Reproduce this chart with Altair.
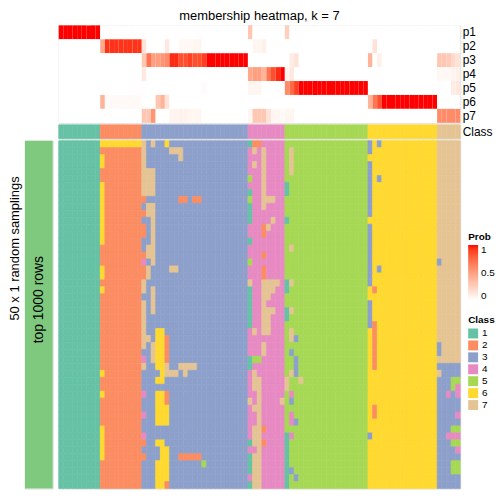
import altair as alt
import pandas as pd

TITLE = "membership heatmap, k = 7"
ROW_TITLE = "50 x 1 random samplings"
BAR_LABEL = "top 1000 rows"
PROB_NAMES = ["p1", "p2", "p3", "p4", "p5", "p6", "p7"]
CLASS_NAMES = ["1", "2", "3", "4", "5", "6", "7"]
CLASS_COLORS = ["#66C2A5", "#FC8D62", "#8DA0CB", "#E78AC3", "#A6D854", "#FFD92F", "#E5C494"]
BAR_COLOR = "#7FC97F"

# number of samples in each consensus class (columns, left to right)
BLOCK_SIZES = [9, 9, 23, 8, 18, 15, 5]

# membership probabilities, per class block of columns
PROB_BLOCKS = {
    "p1": [
        [1, 1, 1, 1, 1, 1, 1, 1, 1],
        [0, 0, 0, 0, 0, 0, 0, 0, 0],
        [0, 0, 0, 0, 0, 0, 0, 0, 0, 0, 0, 0, 0, 0, 0, 0, 0, 0, 0, 0, 0, 0, 0],
        [0.3, 0, 0, 0, 0, 0, 0, 0],
        [0.25, 0, 0, 0, 0, 0, 0, 0, 0, 0, 0, 0, 0, 0, 0, 0, 0, 0],
        [0, 0, 0, 0, 0, 0, 0, 0, 0, 0, 0, 0, 0, 0, 0],
        [0, 0, 0, 0, 0],
    ],
    "p2": [
        [0, 0, 0, 0, 0, 0, 0, 0, 0],
        [0.45, 0.93, 0.93, 0.93, 0.93, 0.93, 0.93, 0.93, 0.93],
        [0.15, 0, 0, 0, 0, 0.12, 0, 0, 0.04, 0.04, 0.04, 0.05, 0.05, 0, 0, 0, 0, 0, 0, 0, 0, 0, 0],
        [0, 0.05, 0.05, 0.08, 0, 0, 0, 0],
        [0, 0, 0, 0, 0, 0, 0, 0, 0, 0, 0, 0, 0, 0, 0, 0, 0, 0],
        [0, 0.15, 0, 0, 0, 0, 0, 0, 0, 0, 0, 0, 0, 0, 0],
        [0, 0, 0, 0, 0],
    ],
    "p3": [
        [0, 0, 0, 0, 0, 0, 0, 0, 0],
        [0, 0, 0, 0, 0, 0, 0, 0, 0],
        [0.3, 0.7, 0.5, 0.5, 0.55, 0.6, 0.95, 0.95, 0.85, 0.85, 0.9, 0.85, 0.85, 0.9, 1, 1, 1, 1, 1, 1, 1, 1, 1],
        [0, 0, 0, 0, 0, 0, 0, 0],
        [0, 0.1, 0.15, 0, 0, 0, 0, 0, 0, 0, 0, 0, 0, 0, 0, 0, 0, 0],
        [0.4, 0, 0.08, 0, 0, 0, 0, 0, 0, 0, 0, 0, 0, 0, 0],
        [0.3, 0.3, 0.28, 0.2, 0.15],
    ],
    "p4": [
        [0, 0, 0, 0, 0, 0, 0, 0, 0],
        [0, 0, 0, 0, 0, 0, 0, 0, 0],
        [0.12, 0, 0, 0, 0, 0, 0, 0, 0, 0, 0, 0, 0, 0, 0, 0, 0, 0, 0, 0, 0, 0, 0],
        [0.45, 0.5, 0.5, 0.4, 0.7, 0.85, 0.95, 1],
        [0.05, 0.12, 0, 0, 0, 0, 0, 0, 0, 0, 0, 0, 0, 0, 0, 0, 0, 0],
        [0, 0, 0, 0, 0, 0, 0, 0, 0, 0, 0, 0, 0, 0, 0],
        [0.04, 0.04, 0.04, 0.06, 0.08],
    ],
    "p5": [
        [0, 0, 0, 0, 0, 0, 0, 0, 0],
        [0, 0, 0, 0, 0, 0, 0, 0, 0],
        [0, 0, 0, 0, 0, 0, 0, 0, 0, 0, 0, 0, 0, 0.02, 0, 0, 0, 0, 0, 0, 0, 0, 0],
        [0.05, 0.05, 0.05, 0, 0, 0, 0, 0],
        [0.6, 0.75, 0.9, 1, 1, 1, 1, 1, 1, 1, 1, 1, 1, 1, 1, 1, 1, 1],
        [0, 0, 0, 0, 0, 0, 0, 0, 0, 0, 0, 0, 0, 0, 0],
        [0, 0, 0, 0.1, 0.12],
    ],
    "p6": [
        [0, 0, 0, 0, 0, 0, 0, 0, 0],
        [0.4, 0.03, 0.03, 0.03, 0.03, 0.03, 0.03, 0.03, 0.03],
        [0, 0, 0, 0.3, 0.4, 0.15, 0, 0, 0, 0, 0, 0, 0, 0, 0, 0, 0, 0, 0, 0, 0, 0, 0],
        [0, 0, 0, 0, 0, 0, 0, 0],
        [0, 0, 0, 0, 0, 0, 0, 0, 0, 0, 0, 0, 0, 0, 0, 0, 0, 0],
        [0.4, 0.7, 0.85, 1, 1, 1, 1, 1, 1, 1, 1, 1, 1, 1, 1],
        [0, 0, 0, 0, 0],
    ],
    "p7": [
        [0, 0, 0, 0, 0, 0, 0, 0, 0],
        [0, 0, 0, 0, 0, 0, 0, 0, 0],
        [0.3, 0.3, 0.55, 0, 0, 0, 0.06, 0.06, 0.07, 0.07, 0.05, 0.05, 0.05, 0, 0, 0, 0, 0, 0, 0, 0, 0, 0],
        [0.05, 0.3, 0.3, 0.3, 0.15, 0.05, 0.05, 0.03],
        [0.05, 0.05, 0, 0, 0, 0, 0, 0, 0, 0, 0, 0, 0, 0, 0, 0, 0, 0],
        [0, 0, 0, 0, 0, 0, 0, 0, 0, 0, 0, 0, 0, 0, 0],
        [0.6, 0.6, 0.6, 0.6, 0.6],
    ],
}

# class of each column, written in segments
SEG_SIZES = [9, 9, 4, 19, 8, 18, 15, 5]
COLUMN_CLASS = "111111111 222222222 3333 3333333333333333333 44444444 555555555555555555 666666666666666 77777"

# class label of each column in each of the 50 random samplings (top to bottom)
SAMPLINGS = [
    "111111111 666666666 7373 3633333333333333333 12244444 555555555555555555 363666666666666 77777",
    "111111111 222222222 7333 3377733333333333333 47474444 575555555555555555 366666666666666 77777",
    "111111111 622222222 7333 3333733333333333333 44474444 575555555555555555 666666666666666 77777",
    "111111111 622222222 7333 3333333333333333333 47474444 575555555555555555 366666666666666 77777",
    "111111111 222222222 7773 3333333333333333333 44474444 575555555555555555 366666666666666 77777",
    "111111111 222222222 7773 3333333333333333333 54474444 555555555555555555 363666666666666 77777",
    "111111111 622222222 7773 3333333333333333333 44474444 155555555555555555 366666666666666 77777",
    "111111111 622222222 7773 3333333333333333333 14474444 155555555555555555 366666666666666 77777",
    "111111111 622222222 2333 3333223223333333333 54477744 555555555555555555 366666666666666 77777",
    "111111111 622222222 3773 3333333333333333333 14474444 555555555555555555 366666666666666 77777",
    "111111111 622222222 2773 3333333333333333333 14444444 555555555555555555 366666666666666 77777",
    "111111111 622222222 3373 3333333333333333333 14444744 155555555555555555 666666666666666 77777",
    "111111111 622222222 2373 3333333333333333333 44427444 555555555555555555 366666666666666 77777",
    "111111111 622222222 2373 3333333333333333333 44424444 555555555555555555 366666666666666 77777",
    "111111111 622222222 3373 3333333333333333333 14444444 555555555555555555 366666666666666 77777",
    "111111111 222222222 3773 3333333333333333333 44444444 575555555555555555 366666666666666 77777",
    "111111111 222222222 2773 3333333333333333333 44424444 555555555555555555 366666666666666 77777",
    "111111111 222222222 4373 3333333333333333333 54444444 555555555555555555 366666666666666 37777",
    "111111111 622222222 2733 3377333333333333333 44424444 555555555555555555 363666666666666 77777",
    "111111111 622222222 2733 3333333333333333333 44424444 555555555555555555 366666666666666 77777",
    "111111111 222222222 7333 3333333333333333333 74477774 175555555555555555 366666666666666 77777",
    "111111111 622222222 7373 3333333333333333333 14477744 155555555555555555 626666666666666 77777",
    "111111111 222222222 3373 3333333333333333333 14477444 555555555555555555 666666666666666 77777",
    "111111111 222222222 7373 3333333333333333333 14474444 555555555555555555 366666666666666 77777",
    "111111111 222222222 7373 3333333333333333333 14477744 175555555555555555 366666666666666 77777",
    "111111111 222222222 7333 3333333333333333333 14477444 155555555555555555 366666666666666 77777",
    "111111111 222222222 7333 3333333333333333333 14477444 555555555555555555 326666666666666 77777",
    "111111111 222222222 7336 6333333333333333333 47477444 575555555555555555 626666666666666 77777",
    "111111111 222222222 7736 6233333333333333333 44444444 573555555555555555 626666666666666 77777",
    "111111111 222222222 7376 6233333333333333333 44474444 555555555555555555 626666666666666 37777",
    "111111111 222222222 3376 6233333333333333333 44474444 535555555555555555 626666666666666 37777",
    "111111111 222222222 4376 6233333333333333333 15544444 553555555555555555 626666666666666 77777",
    "111111111 222222222 7336 6733777733333333333 14444444 553555555555555555 626666666666666 33333",
    "111111111 622222222 3333 6777373333333333333 47444444 573555555555555555 666666666666666 73333",
    "111111111 222222222 3336 6333333333333333333 47744444 755755555555555555 666666666666666 33355",
    "111111111 222222222 3333 3333333333333333333 47744444 755555555555555555 666666666666666 33354",
    "111111111 622222222 4336 6233333333333333333 44744444 545555555555555555 666666666666666 33434",
    "111111111 222222222 3336 6233333333333333333 74744447 535555555555555555 666666666666666 33333",
    "111111111 222222222 3336 6633333333333333333 47744444 555555555555555555 626666666666666 33333",
    "111111111 222222222 4336 6633333333333333333 44744444 545555555555555555 626666666666666 33334",
    "111111111 222222222 3336 6633333333333333333 44744444 543555555555555555 666666666666666 33333",
    "111111111 622222222 3333 3333333333333333333 47724444 555555555555555555 666666666666666 33355",
    "111111111 622222222 4333 3333333333333333333 47744444 145555555555555555 366666666666666 33444",
    "111111111 622222222 2336 6333333333333333333 17724444 155555555555555555 666666666666666 33355",
    "111111111 622222222 3333 6633333333333333333 44744444 155555555555555555 666666666666666 33334",
    "111111111 622222222 2333 6633222223333333333 17744444 155555555555555555 666666666666666 33333",
    "111111111 222222222 3336 6633333335333333333 17744444 155555555555555555 666666666666666 33355",
    "111111111 222222222 3336 6633333333333333333 17744444 135555555555555555 666666666666666 33355",
    "111111111 222222222 3336 6633333333333333333 47744444 153555555555555555 666666666666666 33333",
    "111111111 222222222 3336 6233333333333333333 17744444 155555555555555555 666666666666666 33333",
]

# ---------------------------------------------------------------- tables
base_segs = COLUMN_CLASS.split()


def fit_row(text):
    segs = text.split()
    out = []
    for i, size in enumerate(SEG_SIZES):
        seg = segs[i] if i < len(segs) else base_segs[i]
        seg = (seg + base_segs[i][len(seg):])[:size]
        out.append(seg)
    return "".join(out)


column_class = fit_row(COLUMN_CLASS)
n_cols = len(column_class)
n_rows = len(SAMPLINGS)

prob_records = []
for name in PROB_NAMES:
    values = []
    for blk, size in zip(PROB_BLOCKS[name], BLOCK_SIZES):
        blk = (list(blk) + [0] * size)[:size]
        values.extend(blk)
    for c, v in enumerate(values):
        prob_records.append({"col": c, "col_end": c + 1, "row": name, "prob": v})
prob_df = pd.DataFrame(prob_records)

class_df = pd.DataFrame({"col": list(range(n_cols)),
                         "col_end": [c + 1 for c in range(n_cols)],
                         "row": ["Class"] * n_cols,
                         "cls": list(column_class)})

main_records = []
for r, text in enumerate(SAMPLINGS):
    s = fit_row(text)
    for c, ch in enumerate(s):
        main_records.append({"col": c, "col_end": c + 1, "row": r, "row_end": r + 1, "cls": ch})
main_df = pd.DataFrame(main_records)

bar_df = pd.DataFrame({"g": [BAR_LABEL]})

# ---------------------------------------------------------------- charts
W = 404
MAIN_H = 350

X = alt.X("col:Q", axis=None, scale=alt.Scale(domain=[0, n_cols], nice=False, zero=False))
X2 = alt.X2("col_end:Q")
prob_scale = alt.Scale(domain=[0, 1], range=["#FFFFFF", "#FF0000"], interpolate="lab")
class_scale = alt.Scale(domain=CLASS_NAMES, range=CLASS_COLORS)

right_axis = dict(orient="right", title=None, ticks=False, domain=False,
                  labelFontSize=12, labelPadding=2, labelColor="black")

prob_chart = alt.Chart(
    prob_df,
    title=alt.TitleParams(TITLE, fontSize=13, fontWeight="normal", offset=2,
                          anchor="middle", frame="group", color="black"),
).mark_rect().encode(
    x=X, x2=X2,
    y=alt.Y("row:N", sort=PROB_NAMES, scale=alt.Scale(paddingInner=0, paddingOuter=0),
            axis=alt.Axis(**right_axis)),
    color=alt.Color("prob:Q", scale=prob_scale,
                    legend=alt.Legend(type="gradient", title="Prob", orient="none",
                                      legendX=412, legendY=208,
                                      direction="vertical", gradientLength=56,
                                      gradientThickness=10, values=[0, 0.5, 1],
                                      format=".1~f", labelFontSize=10, titleFontSize=10,
                                      titlePadding=3, labelOffset=3,
                                      gradientStrokeWidth=0)),
).properties(width=W, height=98)

class_chart = alt.Chart(class_df).mark_rect(strokeWidth=0.6).encode(
    x=X, x2=X2,
    y=alt.Y("row:N", scale=alt.Scale(paddingInner=0, paddingOuter=0),
            axis=alt.Axis(**right_axis)),
    color=alt.Color("cls:N", scale=class_scale, legend=None),
    stroke=alt.Stroke("cls:N", scale=class_scale, legend=None),
).properties(width=W, height=14)

main_chart = alt.Chart(main_df).mark_rect(strokeWidth=0.6).encode(
    x=X, x2=X2,
    y=alt.Y("row:Q", axis=None,
            scale=alt.Scale(domain=[0, n_rows], nice=False, zero=False, reverse=True)),
    y2=alt.Y2("row_end:Q"),
    color=alt.Color("cls:N", scale=class_scale,
                    legend=alt.Legend(title="Class", orient="none", legendX=412, legendY=175,
                                      symbolType="square", symbolSize=100,
                                      symbolStrokeWidth=0, labelFontSize=10,
                                      titleFontSize=10, titlePadding=4, rowPadding=2,
                                      labelOffset=4)),
    stroke=alt.Stroke("cls:N", scale=class_scale, legend=None),
).properties(width=W, height=MAIN_H)

bar_base = alt.Chart(bar_df).encode(
    x=alt.X("g:N", axis=None, scale=alt.Scale(paddingInner=0, paddingOuter=0)),
    y=alt.Y("g:N", scale=alt.Scale(paddingInner=0, paddingOuter=0),
            axis=alt.Axis(title=ROW_TITLE, labels=False, ticks=False, domain=False,
                          titleFontSize=13, titleFontWeight="normal", titlePadding=3,
                          titleY=108, titleColor="black")),
)
bar_chart = alt.layer(
    bar_base.mark_rect(color=BAR_COLOR),
    bar_base.mark_text(angle=270, fontSize=14, color="black", align="center",
                       baseline="middle").encode(text="g:N", y=alt.value(160)),
).properties(width=28, height=MAIN_H)


def blank(h):
    return alt.Chart(bar_df).mark_point(opacity=0).properties(width=28, height=h)


chart = alt.concat(
    blank(98), prob_chart,
    blank(14), class_chart,
    bar_chart, main_chart,
    columns=2, spacing={"row": 2, "column": 6}, bounds="flush",
).resolve_scale(
    x="independent", y="independent", color="independent", stroke="independent"
).resolve_legend(
    color="independent", stroke="independent"
).properties(
    padding={"left": 0, "top": 0, "right": 0, "bottom": 0},
).configure_view(stroke=None, strokeWidth=0).configure(font="Liberation Sans")

chart.save("out.html", embed_options={"renderer": "svg", "actions": False})
